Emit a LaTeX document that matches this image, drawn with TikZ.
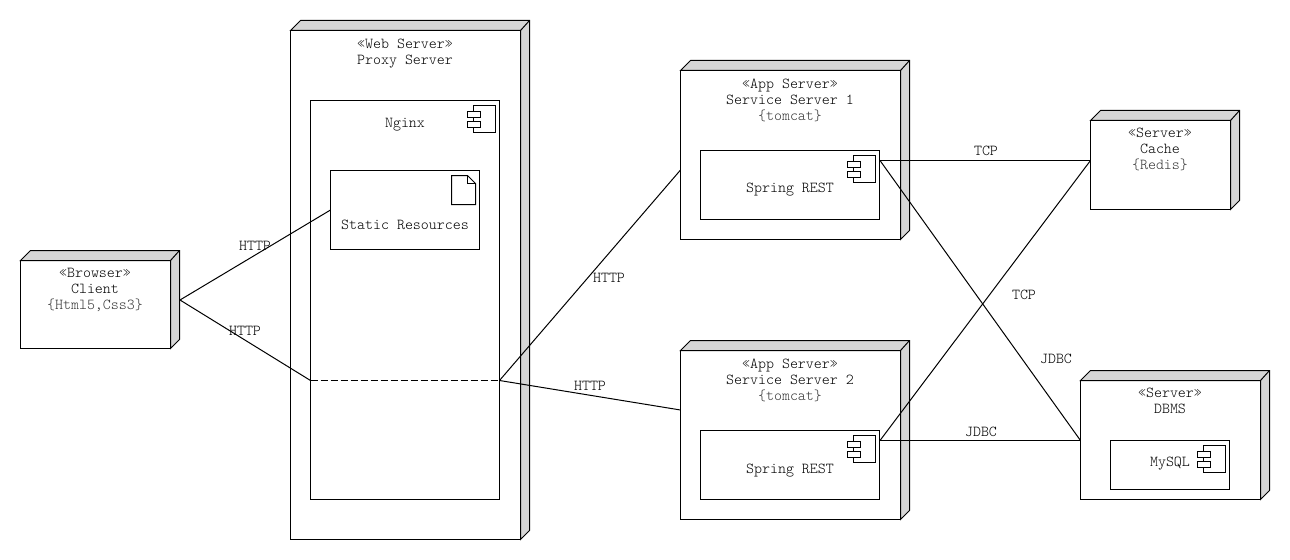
\documentclass[tikz,border=0pt]{standalone}
\usepackage{xcolor}
\definecolor{sidegray}{RGB}{214,214,214}
\definecolor{tagged}{RGB}{55,55,55}
\usepackage{tikz}
\usetikzlibrary{positioning}
\newdimen\px
\px=.75pt
\tikzset{
  device/.style={draw=black,fill=white,inner sep=0pt,outer sep=0pt},
  inner box/.style={draw=black,fill=white,inner sep=0pt,outer sep=0pt},
  title/.style={anchor=north,align=center,inner sep=0pt},
  caption/.style={align=center,inner sep=0pt},
  linklabel/.style={inner sep=0pt},
  compicon/.pic={
    \draw[fill=white] (0,0) rectangle (22,27);
    \draw[fill=white] (-6,6) rectangle (7,12);
    \draw[fill=white] (-6,16) rectangle (7,22);
  },
  docicon/.pic={
    \draw[fill=white] (0,0) -- (16,0) -- (24,8) -- (24,29) -- (0,29) -- cycle;
    \draw (16,0) -- (16,8) -- (24,8);
  }
}
\begin{document}
\begin{tikzpicture}[x=.75pt,y=-.75pt,line width=.75pt,every node/.append style={font=\ttfamily\fontseries{l}\fontsize{11.4}{12}\selectfont}]
\useasboundingbox (0,0) rectangle (1290,560);
% outer servers
\node[device,minimum width=150\px,minimum height=88\px] (client) at (95.5,304.5) {};
\node[device,minimum width=230\px,minimum height=509\px] (web) at (405.5,285) {};
\node[device,minimum width=220\px,minimum height=169\px] (app1) at (790.5,155) {};
\node[device,minimum width=220\px,minimum height=169\px] (app2) at (790.5,435) {};
\node[device,minimum width=140\px,minimum height=89\px] (cache) at (1160.5,165) {};
\node[device,minimum width=180\px,minimum height=119\px] (dbms) at (1170.5,440) {};
\foreach \n in {client,web,app1,app2,cache,dbms}
{
\draw[fill=sidegray] (\n.north west) -- ([shift={(10,-10)}]\n.north west) -- ([shift={(9,-10)}]\n.north east)
  -- ([shift={(9,-9)}]\n.south east) -- (\n.south east) -- (\n.north east) -- cycle;
\draw (\n.north east) -- ([shift={(9,-10)}]\n.north east);
}
% inner boxes
\node[inner box,minimum width=189\px,minimum height=399\px] (nginx) at (405,300) {};
\node[inner box,minimum width=149\px,minimum height=79\px] (static) at (405,210) {};
\node[inner box,minimum width=179\px,minimum height=69\px] (spring1) at (790,185) {};
\node[inner box,minimum width=179\px,minimum height=69\px] (spring2) at (790,465) {};
\node[inner box,minimum width=119\px,minimum height=49\px] (mysql) at (1170,465) {};
% icons
\pic at (473.5,105.5) {compicon};
\pic at (853.5,155.5) {compicon};
\pic at (853.5,435.5) {compicon};
\pic at (1203.5,445.5) {compicon};
\pic at (451.5,175.5) {docicon};
% texts
\node[title] (clienttext) at (95,268) {«Browser»\\Client\\\textcolor{tagged}{\{Html5,Css3\}}};
\node[title] (webtext) at (405,39) {«Web Server»\\Proxy Server};
\node[title] (app1text) at (790,79) {«App Server»\\Service Server 1\\\textcolor{tagged}{\{tomcat\}}};
\node[title] (app2text) at (790,359) {«App Server»\\Service Server 2\\\textcolor{tagged}{\{tomcat\}}};
\node[title] (cachetext) at (1160,128) {«Server»\\Cache\\\textcolor{tagged}{\{Redis\}}};
\node[title] (dbmstext) at (1170,388) {«Server»\\DBMS};
\node[caption] (nginxtext) at (405,125) {Nginx};
\node[caption] (statictext) at (405,225) {Static Resources};
\node[caption] (spring1text) at (790,190) {Spring REST};
\node[caption] (spring2text) at (790,471) {Spring REST};
\node[caption] (mysqltext) at (1170,464) {MySQL};
% connectors
\coordinate (clientport) at (180,300);
\coordinate (nginxin) at (310.5,380.5);
\coordinate (nginxout) at (499.5,380.5);
\coordinate (app1port) at (680.5,170);
\coordinate (app2port) at (680.5,410);
\coordinate (spring1port) at (880,160.5);
\coordinate (spring2port) at (880,440.5);
\coordinate (cacheport) at (1090.5,160.5);
\coordinate (dbmsport) at (1080.5,440.5);
\draw (clientport) -- (static.west);
\draw (clientport) -- (nginxin);
\draw[dash pattern=on 7\px off 3\px] (nginxin) -- (nginxout);
\draw (nginxout) -- (app1port);
\draw (nginxout) -- (app2port);
\draw (spring1port) -- (cacheport);
\draw (spring1port) -- (dbmsport);
\draw (spring2port) -- (cacheport);
\draw (spring2port) -- (dbmsport);
% connector labels
\node[linklabel] (http1) at (255,246) {HTTP};
\node[linklabel] (http2) at (245,331) {HTTP};
\node[linklabel] (http3) at (609,278) {HTTP};
\node[linklabel] (http4) at (590,386) {HTTP};
\node[linklabel] (tcp1) at (986,151) {TCP};
\node[linklabel] (tcp2) at (1024,295) {TCP};
\node[linklabel] (jdbc1) at (1056,359) {JDBC};
\node[linklabel] (jdbc2) at (981,432) {JDBC};
\end{tikzpicture}
\end{document}
